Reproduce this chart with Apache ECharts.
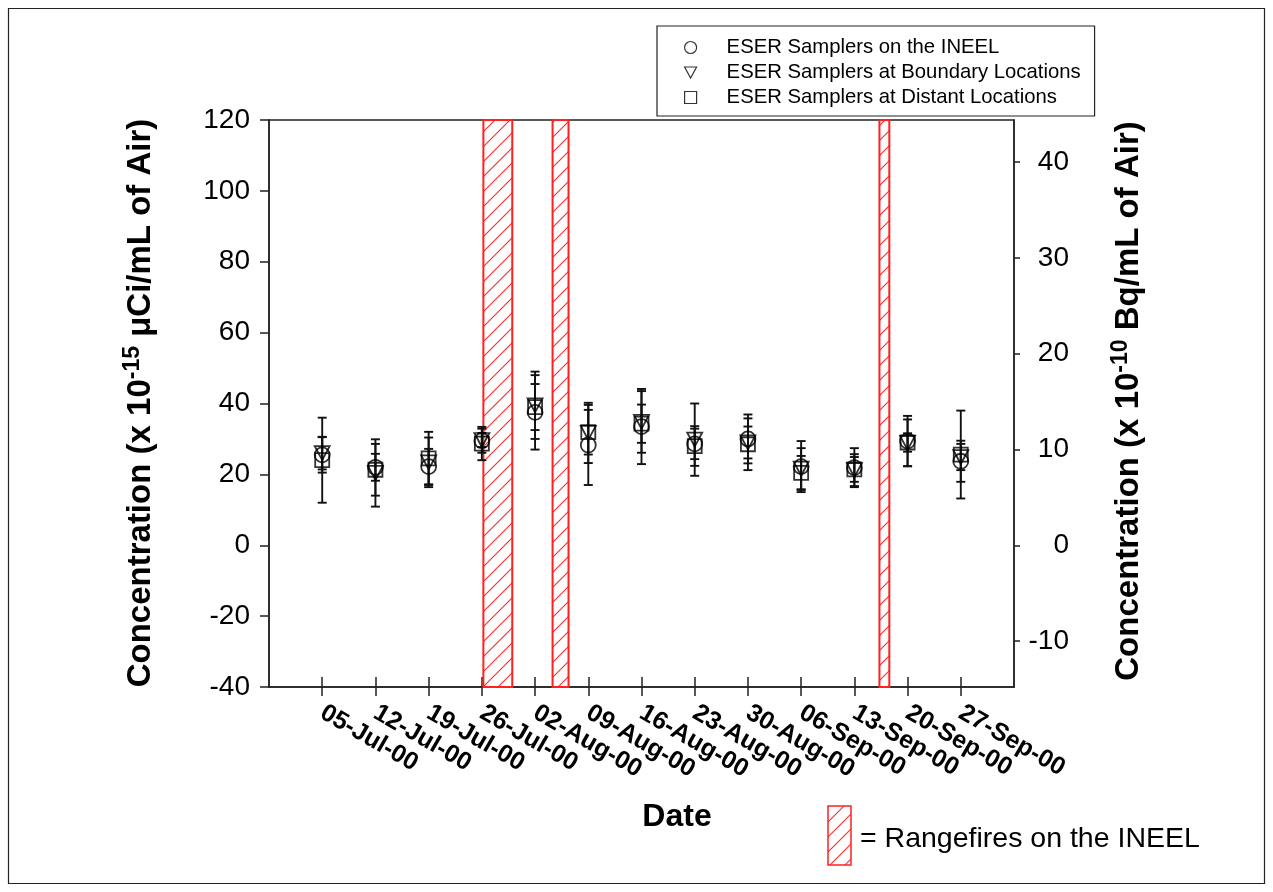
<!DOCTYPE html>
<html>
<head>
<meta charset="utf-8">
<script src="https://cdn.jsdelivr.net/npm/echarts@6/dist/echarts.min.js"></script>
<style>
  html, body { margin: 0; padding: 0; background: #fff; }
  #chart { width: 1273px; height: 892px; }
</style>
</head>
<body>
<div id="chart"></div>
<script>
// Weekly sampling dates, counted in days from 05-Jul-00
const weekLabels = ['05-Jul-00', '12-Jul-00', '19-Jul-00', '26-Jul-00', '02-Aug-00', '09-Aug-00',
  '16-Aug-00', '23-Aug-00', '30-Aug-00', '06-Sep-00', '13-Sep-00', '20-Sep-00', '27-Sep-00'];
const weekDays = [0, 7, 14, 21, 28, 35, 42, 49, 56, 63, 70, 77, 84];

// Weekly mean gross beta concentration (x 10^-15 uCi/mL) and its uncertainty
const onsiteMean   = [25.5, 22.0, 22.2, 29.5, 37.5, 28.3, 33.5, 28.6, 30.0, 22.2, 21.9, 29.4, 23.7];
const onsiteErr    = [5.0, 3.8, 5.0, 3.4, 10.5, 11.3, 10.6, 4.3, 6.9, 7.2, 5.5, 7.1, 5.8];
const boundaryMean = [26.0, 20.4, 23.4, 29.7, 39.5, 31.7, 34.8, 29.8, 29.0, 21.6, 21.2, 28.9, 24.9];
const boundaryErr  = [4.6, 9.5, 7.0, 2.0, 9.5, 8.5, 8.7, 10.2, 4.5, 5.8, 4.5, 6.6, 3.7];
const distantMean  = [24.0, 21.3, 24.5, 28.7, 39.0, 31.9, 34.3, 28.0, 28.5, 20.4, 21.4, 29.0, 25.6];
const distantErr   = [12.0, 7.3, 7.5, 4.7, 6.5, 6.3, 5.4, 5.6, 7.3, 4.8, 3.5, 2.6, 12.4];

// Rangefire periods on the INEEL, days from 05-Jul-00
const fireStart = [21.2, 30.3, 73.3];
const fireEnd   = [25.0, 32.4, 74.6];

// Tick values: left axis in 10^-15 uCi/mL, right axis in 10^-10 Bq/mL
const leftTicks  = [-40, -20, 0, 20, 40, 60, 80, 100, 120];
const rightTicks = [-10, 0, 10, 20, 30, 40];
const UCI_TO_BQ = 0.37;   // 1e-15 uCi = 0.37e-10 Bq

const FONT = '"Liberation Sans", Arial, Helvetica, sans-serif';
const X_MIN = -7, X_MAX = 91;
const Y_MIN = leftTicks[0], Y_MAX = leftTicks[leftTicks.length - 1];
const AXIS_COLOR = '#222';

// Diagonal red hatching used for rangefire bars
function makeHatch() {
  const s = 15;
  const c = document.createElement('canvas');
  c.width = s; c.height = s;
  const g = c.getContext('2d');
  g.fillStyle = '#fff';
  g.fillRect(0, 0, s, s);
  g.strokeStyle = '#ff2a2a';
  g.lineWidth = 1.1;
  g.beginPath();
  g.moveTo(-2, s + 2); g.lineTo(s + 2, -2);
  g.moveTo(-2, 2); g.lineTo(2, -2);
  g.moveTo(s - 2, s + 2); g.lineTo(s + 2, s - 2);
  g.stroke();
  return c;
}
const hatch = { type: 'pattern', image: makeHatch(), repeat: 'repeat' };

function errorBarSeries(name, means, errs) {
  return {
    type: 'custom',
    name: name + ' error',
    xAxisIndex: 0, yAxisIndex: 0,
    z: 4,
    silent: true,
    data: weekDays.map((d, i) => [d, means[i], errs[i]]),
    renderItem: function (params, api) {
      const x = api.value(0), m = api.value(1), e = api.value(2);
      const top = api.coord([x, m + e]);
      const bot = api.coord([x, m - e]);
      const hw = 4.5;
      const st = { stroke: '#111', lineWidth: 1.9 };
      return {
        type: 'group',
        children: [
          { type: 'line', shape: { x1: top[0], y1: top[1], x2: bot[0], y2: bot[1] }, style: st },
          { type: 'line', shape: { x1: top[0] - hw, y1: top[1], x2: top[0] + hw, y2: top[1] }, style: st },
          { type: 'line', shape: { x1: bot[0] - hw, y1: bot[1], x2: bot[0] + hw, y2: bot[1] }, style: st }
        ]
      };
    }
  };
}

const markerStyle = { color: 'rgba(255,255,255,0)', borderColor: '#000', borderWidth: 1.8 };

function markerSeries(name, symbol, size, means) {
  return {
    type: 'scatter',
    name: name,
    xAxisIndex: 0, yAxisIndex: 0,
    symbol: symbol,
    symbolSize: size,
    z: 5,
    itemStyle: markerStyle,
    data: weekDays.map((d, i) => [d, means[i]])
  };
}

const TRI_DOWN = 'path://M0,0 L12,0 L6,11 Z';

const fireSeries = {
  type: 'custom',
  name: 'Rangefires',
  xAxisIndex: 0, yAxisIndex: 0,
  z: 2,
  silent: true,
  data: fireStart.map((s, i) => [s, fireEnd[i]]),
  renderItem: function (params, api) {
    const p0 = api.coord([api.value(0), Y_MAX]);
    const p1 = api.coord([api.value(1), Y_MIN]);
    return {
      type: 'rect',
      shape: { x: p0[0], y: p0[1], width: p1[0] - p0[0], height: p1[1] - p0[1] },
      style: { fill: hatch, stroke: '#ff2020', lineWidth: 2 }
    };
  }
};

const chart = echarts.init(document.getElementById('chart'), null, { renderer: 'canvas' });

const xLabelFormatter = function (v) {
  const i = weekDays.indexOf(Math.round(v));
  return i >= 0 ? weekLabels[i] : '';
};

const axisLineStyle = { color: AXIS_COLOR, width: 1.5 };
const titleRich = {
  b: { fontFamily: FONT, fontSize: 33, fontWeight: 'bold', fill: '#000', lineHeight: 40 },
  s: { fontFamily: FONT, fontSize: 23, fontWeight: 'bold', fill: '#000', verticalAlign: 'top', lineHeight: 22 }
};

chart.setOption({
  animation: false,
  backgroundColor: '#fff',
  textStyle: { fontFamily: FONT },
  grid: {
    left: 269, right: 259, top: 120, bottom: 205,
    show: true, borderColor: AXIS_COLOR, borderWidth: 1.5, backgroundColor: 'transparent'
  },
  legend: {
    left: 657, top: 26,
    orient: 'vertical',
    padding: [11, 14, 8, 27],
    itemGap: 4,
    itemWidth: 12, itemHeight: 12,
    itemStyle: { color: 'rgba(255,255,255,0)', borderColor: '#000', borderWidth: 1.2 },
    borderColor: AXIS_COLOR, borderWidth: 1.2,
    backgroundColor: '#fff',
    selectedMode: false,
    textStyle: { fontFamily: FONT, fontSize: 20.3, color: '#000', padding: [0, 0, 0, 25], lineHeight: 21 },
    data: [
      { name: 'ESER Samplers on the INEEL', icon: 'circle' },
      { name: 'ESER Samplers at Boundary Locations', icon: TRI_DOWN },
      { name: 'ESER Samplers at Distant Locations', icon: 'rect' }
    ]
  },
  xAxis: [
    {
      type: 'value', min: X_MIN, max: X_MAX,
      splitLine: { show: false },
      axisLine: { onZero: false, lineStyle: axisLineStyle },
      axisTick: { show: true, length: 9, customValues: weekDays, lineStyle: axisLineStyle },
      axisLabel: {
        customValues: weekDays,
        formatter: xLabelFormatter,
        rotate: -30, margin: 24,
        fontFamily: FONT, fontSize: 25, fontWeight: 'bold', color: '#000'
      }
    },
    {
      type: 'value', min: X_MIN, max: X_MAX, position: 'bottom',
      splitLine: { show: false },
      axisLine: { show: false, onZero: false },
      axisTick: { show: true, inside: true, length: 10, customValues: weekDays, lineStyle: axisLineStyle },
      axisLabel: { show: false }
    }
  ],
  yAxis: [
    {
      type: 'value', min: Y_MIN, max: Y_MAX, interval: 20,
      position: 'left',
      splitLine: { show: false },
      axisLine: { show: true, onZero: false, lineStyle: axisLineStyle },
      axisTick: { show: true, length: 9, lineStyle: axisLineStyle },
      axisLabel: { margin: 19, fontFamily: FONT, fontSize: 28, color: '#000' }
    },
    {
      type: 'value', min: Y_MIN * UCI_TO_BQ, max: Y_MAX * UCI_TO_BQ,
      position: 'right',
      splitLine: { show: false },
      axisLine: { show: true, onZero: false, lineStyle: axisLineStyle },
      axisTick: { show: true, length: 6, customValues: rightTicks, lineStyle: axisLineStyle },
      axisLabel: {
        customValues: rightTicks, align: 'right', margin: 55,
        fontFamily: FONT, fontSize: 28, color: '#000'
      }
    }
  ],
  series: [
    fireSeries,
    errorBarSeries('ESER Samplers on the INEEL', onsiteMean, onsiteErr),
    errorBarSeries('ESER Samplers at Boundary Locations', boundaryMean, boundaryErr),
    errorBarSeries('ESER Samplers at Distant Locations', distantMean, distantErr),
    markerSeries('ESER Samplers on the INEEL', 'circle', 15, onsiteMean),
    markerSeries('ESER Samplers at Boundary Locations', TRI_DOWN, [15, 14], boundaryMean),
    markerSeries('ESER Samplers at Distant Locations', 'rect', 14, distantMean)
  ],
  graphic: [
    // outer frame
    {
      type: 'rect', silent: true, z: 0,
      shape: { x: 8.5, y: 8.5, width: 1256, height: 875 },
      style: { fill: 'none', stroke: AXIS_COLOR, lineWidth: 1.2 }
    },
    {
      type: 'text', silent: true,
      x: 141, y: 403, rotation: Math.PI / 2,
      style: {
        text: '{b|Concentration (x 10}{s|-15}{b| \u03bcCi/mL of Air)}',
        align: 'center', verticalAlign: 'middle',
        rich: titleRich
      }
    },
    {
      type: 'text', silent: true,
      x: 1129, y: 401, rotation: Math.PI / 2,
      style: {
        text: '{b|Concentration (x 10}{s|-10}{b| Bq/mL of Air)}',
        align: 'center', verticalAlign: 'middle',
        rich: titleRich
      }
    },
    {
      type: 'text', silent: true,
      x: 677, y: 817,
      style: {
        text: 'Date', align: 'center', verticalAlign: 'middle',
        fontFamily: FONT, fontSize: 32, fontWeight: 'bold', fill: '#000'
      }
    },
    {
      type: 'rect', silent: true,
      shape: { x: 828, y: 806, width: 23, height: 59 },
      style: { fill: hatch, stroke: '#ff2020', lineWidth: 1.5 }
    },
    {
      type: 'text', silent: true,
      x: 860, y: 839,
      style: {
        text: '= Rangefires on the INEEL', align: 'left', verticalAlign: 'middle',
        fontFamily: FONT, fontSize: 28.5, fill: '#000'
      }
    }
  ]
});
</script>
</body>
</html>
